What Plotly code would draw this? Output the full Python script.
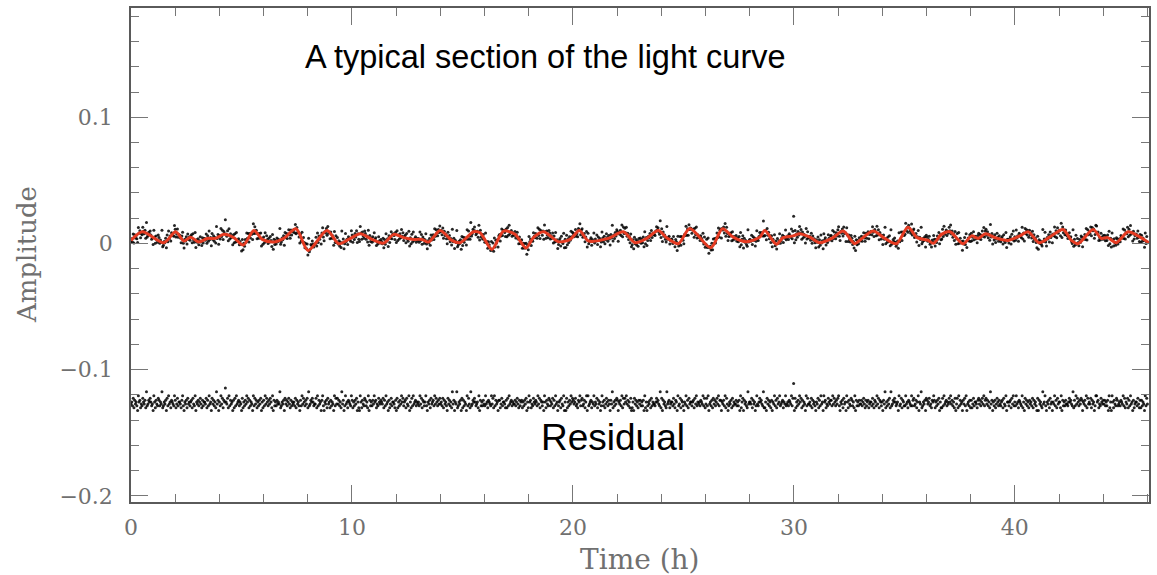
import numpy as np
import plotly.graph_objects as go

# ---- data ----
# smooth fit (red curve): knot times (h) and amplitudes
curve_t = [0.0, 0.51, 1.49, 2.02, 2.39, 2.70, 3.07, 3.45, 3.82, 4.20, 4.65, 5.08, 5.56, 5.94, 6.46, 6.91,
           7.47, 8.01, 8.87, 9.40, 9.85, 10.38, 10.91, 11.43, 11.89, 12.34, 12.79, 13.17, 13.47, 13.99,
           14.52, 14.90, 15.50, 15.80, 16.33, 16.86, 17.38, 17.88, 18.21, 18.67, 19.34, 19.87, 20.29,
           20.70, 21.60, 22.28, 22.81, 23.34, 23.86, 24.24, 24.77, 25.29, 26.24, 26.77, 27.25, 27.85,
           28.46, 28.68, 29.21, 29.51, 29.97, 30.26, 30.72, 31.17, 31.77, 32.23, 32.60, 32.75, 33.58,
           34.11, 34.64, 35.16, 35.58, 36.08, 36.31, 36.68, 37.06, 37.66, 38.04, 38.34, 38.67, 39.10,
           39.70, 40.22, 40.60, 41.10, 41.57, 42.18, 42.56, 42.86, 43.54, 43.91, 44.20, 44.59, 45.12,
           45.57, 46.07]
curve_a = [0.0024, 0.0093, 0.0006, 0.0093, 0.0020, 0.0050, 0.0011, 0.0040, 0.0040, 0.0072, 0.0046,
           -0.0013, 0.0103, 0.0032, 0.0011, 0.0040, 0.0116, -0.0055, 0.0103, -0.0002, 0.0032, 0.0077,
           0.0032, 0.0003, 0.0072, 0.0046, 0.0032, 0.0032, 0.0011, 0.0103, 0.0024, 0.0006, 0.0093,
           0.0085, -0.0047, 0.0098, 0.0072, -0.0036, 0.0046, 0.0093, 0.0014, 0.0032, 0.0103, 0.0020,
           0.0040, 0.0093, 0.0006, 0.0040, 0.0103, 0.0046, -0.0002, 0.0119, -0.0034, 0.0116, 0.0050,
           0.0014, 0.0050, 0.0103, -0.0007, 0.0046, 0.0060, 0.0077, 0.0050, 0.0006, 0.0046, 0.0098,
           0.0024, -0.0002, 0.0098, 0.0040, -0.0002, 0.0128, 0.0046, 0.0024, 0.0001, 0.0072, 0.0093,
           -0.0002, 0.0060, 0.0040, 0.0077, 0.0046, 0.0024, 0.0060, 0.0093, 0.0006, 0.0050, 0.0111,
           0.0024, -0.0002, 0.0111, 0.0040, 0.0046, 0.0006, 0.0093, 0.0060, 0.0006]

# residual of each observation, coded as one character per 2-minute sample
residual_codes = (
    "4537264531856243754629346575341852643763549235461738452654386247355426831546274535627438154635742635"
    "5472638451746352946153847265a54728364516273845635417253648572635418374625364715263847536475281635364"
    "5492354617463574263545372645316384753647293465753447283645168315462745263541837474635294613845265438"
    "6253647152185264376352816353648562437546547263845162473554261725364857356274381527384563545384726535"
    "8315462745638475364745372645317463529461549235461726354183742934657534528163536438452654384728364516"
    "6247355426273845635446357426356253647152856243754653847265351852643763547263845135627438151725364857"
    "6457342658367346258183456254835472645138536247536416492536476154638274758463527125174635264635361825"
    "1354627354435756439271645329456245537426518347265315483627455356274835453654837247381453627463574836"
    "615463827413546273544635361825716453294554726451384357564392251746352615483627458345625483453654837b"
    "1725364857263541837445372645315472638451856243754663847536478315462745185264376352816353644635742635"
    "6245537426538472653516492536472934657534518347265338452654383673462581549235461764573426586253647152"
    "2738456354758463527147283645164738145362624735542674635748367463529461536247536435627438155356274835"
    "3845265438251746352645372645317164532945831546274515483627455281635364435756439263847536476154638274"
    "54726451388562437546463536182518526437634536548372547263845162455374262635418374"
)
residual_scale = {"0": -0.0090, "1": -0.0058, "2": -0.0038, "3": -0.0022, "4": -0.0008,
                  "5": 0.0008, "6": 0.0022, "7": 0.0038, "8": 0.0058, "9": 0.0090,
                  "a": 0.0120, "b": 0.0155}
residual_offset = -0.1265          # vertical offset of the residual strip
x_ticks = [0, 10, 20, 30, 40]
y_ticks = [-0.2, -0.1, 0, 0.1]

# ---- build series ----
resid = np.array([residual_scale[c] for c in residual_codes])
t_obs = np.linspace(0.0, 46.0, len(resid))
model_obs = np.interp(t_obs, curve_t, curve_a)
obs = model_obs + resid

fig = go.Figure()
fig.add_trace(go.Scatter(x=t_obs, y=obs, mode="markers",
                         marker=dict(size=3, color="black", opacity=0.85), hoverinfo="skip"))
fig.add_trace(go.Scatter(x=t_obs, y=resid + residual_offset, mode="markers",
                         marker=dict(size=3, color="black", opacity=0.85), hoverinfo="skip"))
fig.add_trace(go.Scatter(x=curve_t, y=curve_a, mode="lines",
                         line=dict(color="#e53b22", width=3, shape="spline", smoothing=0.8),
                         hoverinfo="skip"))

tickfont = dict(family="DejaVu Serif", size=22, color="#707070")
axis_common = dict(showgrid=False, showline=True, linecolor="#5a5a5a", linewidth=1.5,
                   mirror="ticks", ticks="inside", ticklen=17, tickwidth=1.3, tickcolor="#777777",
                   tickfont=tickfont, zeroline=False)
fig.update_xaxes(range=[0, 46.07], tickvals=x_ticks, ticklabelstandoff=5,
                 minor=dict(dtick=2, ticks="inside", ticklen=8, tickwidth=1.3, tickcolor="#777777"),
                 **axis_common)
fig.update_yaxes(range=[-0.2049, 0.1866], tickvals=y_ticks, ticklabelstandoff=12,
                 minor=dict(dtick=0.02, ticks="inside", ticklen=8, tickwidth=1.3, tickcolor="#777777"),
                 **axis_common)

fig.add_annotation(x=18.77, y=0.1475, text="A typical section of the light curve", showarrow=False,
                   font=dict(family="Liberation Sans", size=32.5, color="black"))
fig.add_annotation(x=21.8, y=-0.1535, text="Residual", showarrow=False,
                   font=dict(family="Liberation Sans", size=37, color="black"))
fig.add_annotation(xref="paper", yref="paper", x=0.5, y=-0.117, text="Time (h)", showarrow=False,
                   font=dict(family="DejaVu Serif", size=28, color="#707070"), yanchor="middle")
fig.add_annotation(xref="paper", yref="paper", x=-0.1027, y=0.501, text="Amplitude", showarrow=False,
                   textangle=-90, font=dict(family="DejaVu Serif", size=26, color="#707070"),
                   xanchor="center", yanchor="middle")

fig.update_layout(width=1157, height=575, margin=dict(l=131, r=6, t=6, b=73),
                  paper_bgcolor="white", plot_bgcolor="white", showlegend=False)

fig.write_html("out.html")
